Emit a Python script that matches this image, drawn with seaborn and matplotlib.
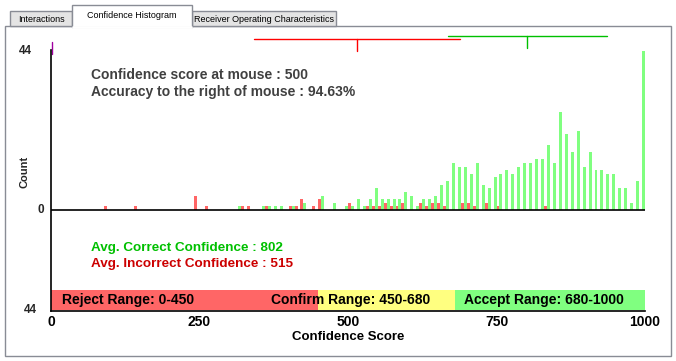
import numpy as np
import pandas as pd
import matplotlib
matplotlib.use('Agg')
import matplotlib.pyplot as plt
from matplotlib.patches import Rectangle
import seaborn as sns

# counts per 10-point confidence bin: 0-10, 10-20, ... 990-1000
correct_counts = [0, 0, 0, 0, 0, 0, 0, 0, 0, 0,
                  0, 0, 0, 0, 0, 0, 0, 0, 0, 0,
                  0, 0, 0, 0, 0, 0, 0, 0, 0, 0,
                  0, 1, 0, 0, 0, 1, 1, 1, 1, 0,
                  1, 0, 2, 0, 0, 4, 0, 2, 0, 1,
                  1, 3, 1, 3, 6, 3, 3, 3, 3, 5,
                  4, 1, 3, 3, 4, 7, 8, 13, 12, 12,
                  10, 13, 7, 6, 9, 10, 11, 10, 12, 13,
                  13, 14, 14, 18, 13, 27, 21, 16, 22, 12,
                  16, 11, 11, 10, 10, 6, 6, 2, 8, 44]
incorrect_counts = [0, 0, 0, 0, 0, 0, 0, 0, 0, 1,
                    0, 0, 0, 0, 1, 0, 0, 0, 0, 0,
                    0, 0, 0, 0, 4, 0, 1, 0, 0, 0,
                    0, 0, 1, 1, 0, 0, 1, 0, 0, 0,
                    1, 1, 3, 0, 1, 3, 0, 0, 0, 0,
                    2, 0, 0, 1, 1, 1, 2, 1, 1, 2,
                    0, 0, 2, 1, 2, 2, 1, 0, 0, 2,
                    2, 1, 0, 2, 0, 1, 0, 0, 0, 0,
                    0, 0, 0, 1, 0, 0, 0, 0, 0, 0,
                    0, 0, 0, 0, 0, 0, 0, 0, 0, 0]
bin_edges = list(range(0, 1001, 10))

avg_correct, spread_correct = 802, 134
avg_incorrect, spread_incorrect = 515, 173
mouse_score = 500
accuracy_right = 94.63

range_names = ['Reject Range: 0-450', 'Confirm Range: 450-680', 'Accept Range: 680-1000']
range_edges = [0, 450, 680, 1000]
range_colors = ['#ff6666', '#ffff80', '#80ff80']

x_ticks = [0, 250, 500, 750, 1000]
y_max = 44

tab_names = ['Interactions', 'Confidence Histogram', 'Receiver Operating Characteristics']

sns.set_theme(style='white')
plt.rcParams['font.family'] = ['Liberation Sans', 'DejaVu Sans']

W, H = 676, 361
fig = plt.figure(figsize=(W / 100, H / 100), dpi=100)
fig.patch.set_facecolor('white')

# pixel-space layer for the window chrome
bg = fig.add_axes([0, 0, 1, 1])
bg.set_xlim(0, W)
bg.set_ylim(H, 0)
bg.axis('off')
frame = '#898c95'
bg.add_patch(Rectangle((5, 26), 666, 330, facecolor='white', edgecolor=frame, lw=1))
tab_boxes = [(10, 11, 62, 15), (72, 5, 120, 22), (192, 11, 144, 15)]
for i, (name, (tx, ty, tw, th)) in enumerate(zip(tab_names, tab_boxes)):
    active = i == 1
    bg.add_patch(Rectangle((tx, ty), tw, th, facecolor='white' if active else '#e4e4e4',
                           edgecolor=frame, lw=1, zorder=3 if active else 2))
    if active:
        bg.plot([tx + 1, tx + tw - 1], [ty + th, ty + th], color='white', lw=2, zorder=4)
    bg.text(tx + tw / 2, ty + th / 2 + (-1 if active else 0.5), name, ha='center', va='center',
            fontsize=6.5, color='black', zorder=5)

# data axes: 0 baseline sits at pixel row 210, 44 at row 51
k = 159 / 44
ax = fig.add_axes([51 / W, 1 - 311 / H, 594 / W, 261 / H])
ax.set_facecolor('none')

df = pd.DataFrame({
    'score': [e + 5 for e in bin_edges[:-1]] * 2,
    'count': incorrect_counts + correct_counts,
    'result': ['Incorrect'] * 100 + ['Correct'] * 100,
})
sns.histplot(data=df, x='score', weights='count', hue='result',
             hue_order=['Incorrect', 'Correct'], bins=bin_edges, multiple='dodge',
             shrink=1, palette={'Incorrect': '#ff6666', 'Correct': '#80ff80'},
             alpha=1, linewidth=0, legend=False, ax=ax)

ax.set_xlim(0, 1000)
ax.set_ylim(-(311 - 210) / k, (210 - 50) / k)
ax.axhline(0, color='black', lw=1.2, zorder=5)

for s in ['top', 'right']:
    ax.spines[s].set_visible(False)
for s in ['left', 'bottom']:
    ax.spines[s].set_color('black')
    ax.spines[s].set_linewidth(1.2)

ax.set_xticks(x_ticks)
ax.set_xticklabels([str(t) for t in x_ticks], fontsize=10, fontweight='bold', color='black')
ax.tick_params(axis='x', length=0, pad=3)
ax.set_yticks([])
ax.set_xlabel('Confidence Score', fontsize=9.5, fontweight='bold', color='black', labelpad=1)
ax.set_ylabel('')

ylo = ax.get_ylim()[0]
ax.text(-32, y_max, str(y_max), ha='right', va='center', fontsize=8.5, fontweight='bold', clip_on=False)
ax.text(-11, 0, '0', ha='right', va='center', fontsize=8.5, fontweight='bold', clip_on=False)
ax.text(-24, ylo + 0.2, str(y_max), ha='right', va='center', fontsize=8.5, fontweight='bold', clip_on=False)
bg.text(25, 172, 'Count', rotation=90, ha='center', va='center', fontsize=8, fontweight='bold')

# confidence range band along the bottom
band_y = -(300 - 210) / k
ax.barh(y=band_y, width=np.diff(range_edges), left=range_edges[:-1], height=20 / k,
        color=range_colors, linewidth=0, zorder=2)
for name, lx in zip(range_names, [18, 370, 695]):
    ax.text(lx, band_y, name, ha='left', va='center', fontsize=10, fontweight='bold',
            color='black', zorder=6)

# mean +/- spread markers above the plot
y_red, y_green = (210 - 39.5) / k, (210 - 36) / k
ax.plot([avg_incorrect - spread_incorrect, avg_incorrect + spread_incorrect], [y_red, y_red],
        color='#ff0000', lw=1, clip_on=False)
ax.plot([avg_incorrect, avg_incorrect], [y_red, (210 - 51) / k], color='#ff0000', lw=1, clip_on=False)
ax.plot([avg_correct - spread_correct, avg_correct + spread_correct], [y_green, y_green],
        color='#00c000', lw=1, clip_on=False)
ax.plot([avg_correct, avg_correct], [y_green, (210 - 48) / k], color='#00c000', lw=1, clip_on=False)
ax.plot([2, 2], [(210 - 42) / k, (210 - 54) / k], color='#a000a0', lw=1, clip_on=False)

# info texts
bg.text(91, 75, f'Confidence score at mouse : {mouse_score}', ha='left', va='center',
        fontsize=10, fontweight='bold', color='#404040')
bg.text(91, 92, f'Accuracy to the right of mouse : {accuracy_right:.2f}%', ha='left', va='center',
        fontsize=10, fontweight='bold', color='#404040')
bg.text(91, 248, f'Avg. Correct Confidence : {avg_correct}', ha='left', va='center',
        fontsize=9.7, fontweight='bold', color='#00c000')
bg.text(91, 264, f'Avg. Incorrect Confidence : {avg_incorrect}', ha='left', va='center',
        fontsize=9.7, fontweight='bold', color='#cc0000')

fig.savefig('out.png', dpi=100)
